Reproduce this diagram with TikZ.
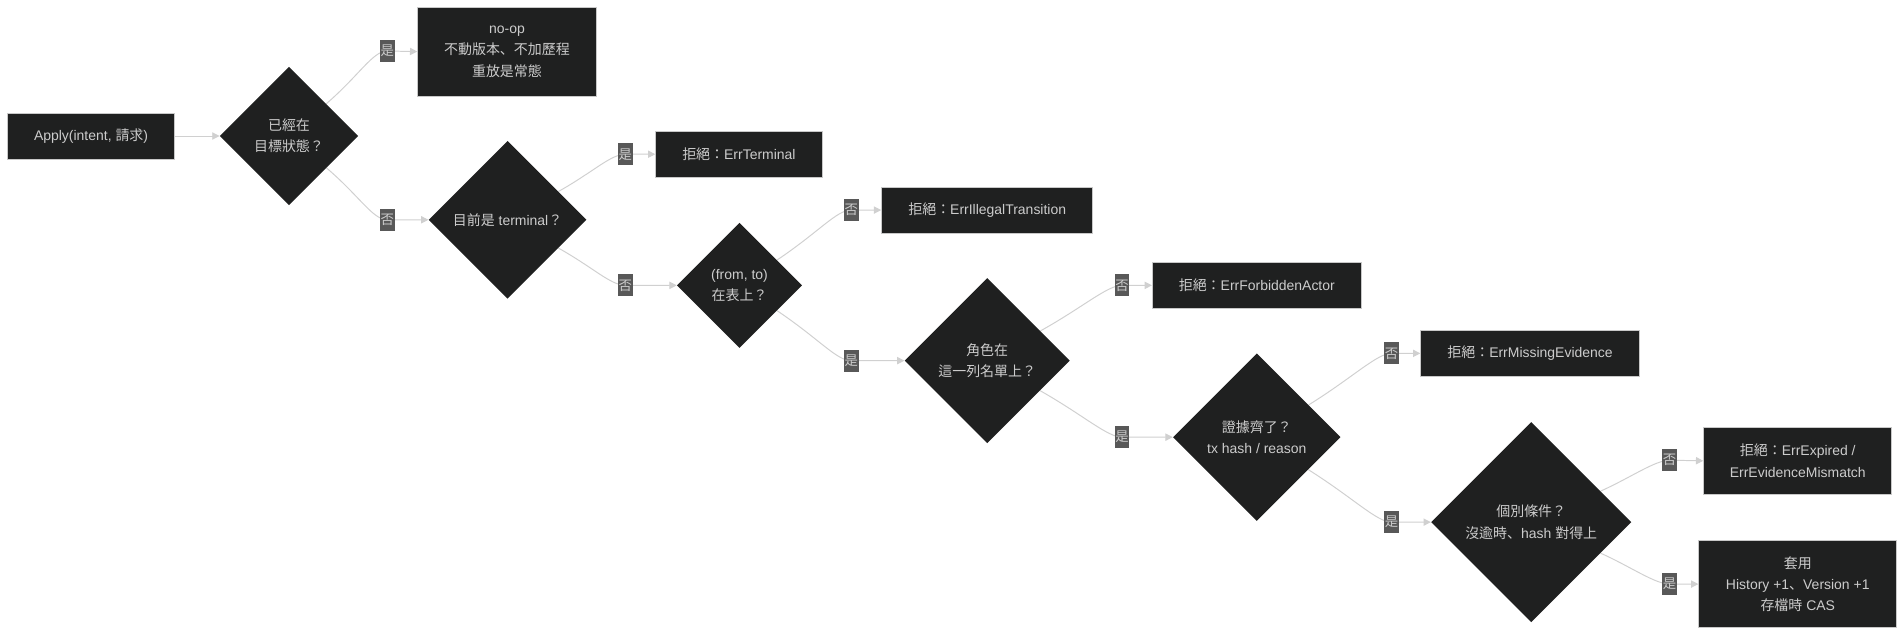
\documentclass[tikz,border=0pt]{standalone}
\usepackage{fontspec}
\setmainfont{Liberation Sans}
\newfontfamily\cjk{Noto Sans CJK JP}
\usetikzlibrary{shapes.geometric,arrows.meta,calc}
\definecolor{nodebg}{HTML}{1F2020}
\definecolor{nodeborder}{HTML}{C8C8C8}
\definecolor{txt}{HTML}{CCCCCC}
\definecolor{lblbg}{HTML}{585858}
\definecolor{edgec}{HTML}{D0D0D0}
\newcommand\zh[1]{{\cjk #1}}
\pgfdeclarelayer{bg}
\pgfsetlayers{bg,main}
\tikzset{
  box/.style={rectangle, fill=nodebg, draw=nodeborder, line width=0.7pt, text=txt, align=center, inner sep=0pt,
    font=\fontsize{11.5}{17.5}\selectfont},
  dec/.style={diamond, shape aspect=1, fill=nodebg, draw=none, text=txt, align=center, inner sep=0pt,
    font=\fontsize{11.5}{17.5}\selectfont},
  lbl/.style={rectangle, fill=lblbg, text=txt, inner xsep=0.6pt, inner ysep=0pt, minimum height=18pt,
    font=\fontsize{11}{13}\selectfont\cjk},
  edge/.style={draw=edgec, line width=0.8pt, -{Triangle[length=6pt,width=6pt]}}
}
\begin{document}
\begin{tikzpicture}[x=1pt,y=-1pt]
\useasboundingbox (0,0) rectangle (1568,524);

% nodes
\node[box, minimum width=138pt, minimum height=38pt] (apply) at (75,112) {Apply(intent, \zh{請求})};
\node[dec, minimum width=114pt, minimum height=114pt] (d1) at (238,112) {\zh{已經在}\\\zh{目標狀態？}};
\node[box, minimum width=147pt, minimum height=73pt] (noop) at (417.5,42.5) {no-op\\\zh{不動版本、不加歷程}\\\zh{重放是常態}};
\node[dec, minimum width=130pt, minimum height=130pt] (d2) at (418,181) {\zh{目前是} terminal\zh{？}};
\node[box, minimum width=137pt, minimum height=38pt] (eterm) at (608.5,127) {\zh{拒絕：}ErrTerminal};
\node[dec, minimum width=103pt, minimum height=103pt] (d3) at (609,235) {(from, to)\\\zh{在表上？}};
\node[box, minimum width=174pt, minimum height=38pt] (eill) at (813,173) {\zh{拒絕：}ErrIllegalTransition};
\node[dec, minimum width=136pt, minimum height=136pt] (d4) at (813,297) {\zh{角色在}\\\zh{這一列名單上？}};
\node[box, minimum width=172pt, minimum height=38pt] (eforb) at (1035,235) {\zh{拒絕：}ErrForbiddenActor};
\node[dec, minimum width=138pt, minimum height=138pt] (d5) at (1035,360) {\zh{證據齊了？}\\tx hash / reason};
\node[box, minimum width=180pt, minimum height=38pt] (emiss) at (1260,291) {\zh{拒絕：}ErrMissingEvidence};
\node[dec, minimum width=165pt, minimum height=165pt] (d6) at (1261,430) {\zh{個別條件？}\\\zh{沒逾時、}hash \zh{對得上}};
\node[box, minimum width=155pt, minimum height=55pt] (eexp) at (1480.5,379.5) {\zh{拒絕：}ErrExpired /\\ErrEvidenceMismatch};
\node[box, minimum width=163pt, minimum height=72pt] (ok) at (1480.5,481) {\zh{套用}\\History +1\zh{、}Version +1\\\zh{存檔時} CAS};

% edge labels
\node[lbl] (l1y) at (319,42) {是};
\node[lbl] (l1n) at (319,181) {否};
\node[lbl] (l2y) at (515,127) {是};
\node[lbl] (l2n) at (515,235) {否};
\node[lbl] (l3n) at (701,173) {否};
\node[lbl] (l3y) at (701,297) {是};
\node[lbl] (l4n) at (924,235) {否};
\node[lbl] (l4y) at (924,360) {是};
\node[lbl] (l5n) at (1146,291) {否};
\node[lbl] (l5y) at (1146,430) {是};
\node[lbl] (l6n) at (1375,379) {否};
\node[lbl] (l6y) at (1375,481) {是};

\begin{pgfonlayer}{bg}
\fill[white] (0,0) rectangle (1568,524);
\draw[edge] (apply.east) -- (d1.west);
\draw[edge] (d1) .. controls ($(d1)!0.72!(l1y)$) and ($(l1y)+(-12,0)$) .. (l1y.center) -- (noop.west);
\draw[edge] (d1) .. controls ($(d1)!0.72!(l1n)$) and ($(l1n)+(-12,0)$) .. (l1n.center) -- (d2.west);
\draw[edge] (d2) .. controls ($(d2)!0.72!(l2y)$) and ($(l2y)+(-12,0)$) .. (l2y.center) -- (eterm.west);
\draw[edge] (d2) .. controls ($(d2)!0.72!(l2n)$) and ($(l2n)+(-12,0)$) .. (l2n.center) -- (d3.west);
\draw[edge] (d3) .. controls ($(d3)!0.72!(l3n)$) and ($(l3n)+(-12,0)$) .. (l3n.center) -- (eill.west);
\draw[edge] (d3) .. controls ($(d3)!0.72!(l3y)$) and ($(l3y)+(-12,0)$) .. (l3y.center) -- (d4.west);
\draw[edge] (d4) .. controls ($(d4)!0.72!(l4n)$) and ($(l4n)+(-12,0)$) .. (l4n.center) -- (eforb.west);
\draw[edge] (d4) .. controls ($(d4)!0.72!(l4y)$) and ($(l4y)+(-12,0)$) .. (l4y.center) -- (d5.west);
\draw[edge] (d5) .. controls ($(d5)!0.72!(l5n)$) and ($(l5n)+(-12,0)$) .. (l5n.center) -- (emiss.west);
\draw[edge] (d5) .. controls ($(d5)!0.72!(l5y)$) and ($(l5y)+(-12,0)$) .. (l5y.center) -- (d6.west);
\draw[edge] (d6) .. controls ($(d6)!0.72!(l6n)$) and ($(l6n)+(-12,0)$) .. (l6n.center) -- (eexp.west);
\draw[edge] (d6) .. controls ($(d6)!0.72!(l6y)$) and ($(l6y)+(-12,0)$) .. (l6y.center) -- (ok.west);
\end{pgfonlayer}
\end{tikzpicture}
\end{document}
